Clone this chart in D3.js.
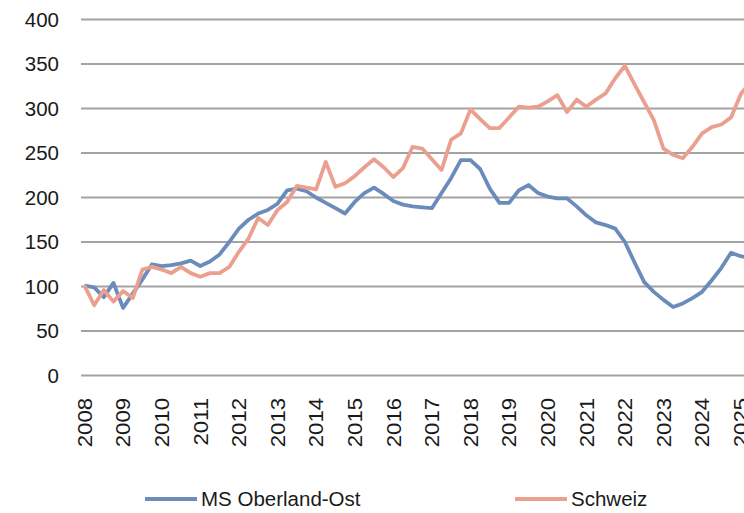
<!DOCTYPE html>
<html>
<head>
<meta charset="utf-8">
<script src="https://cdn.jsdelivr.net/npm/d3@7"></script>
<style>
  body { margin: 0; background: #fff; }
  svg { display: block; font-family: "Liberation Sans", Arial, sans-serif; }
</style>
</head>
<body>
<div id="chart"></div>
<script>
// quarterly index values, 2008 Q1 .. 2025 Q2
const years = d3.range(2008, 2026);
const yTicks = [0, 50, 100, 150, 200, 250, 300, 350, 400];

const oberland = [
    101, 99, 88, 104, 76, 92, 108, 125, 123, 124, 126, 129, 123, 128, 136, 150,
    165, 175, 182, 186, 193, 208, 210, 207, 200, 194, 188, 182, 195, 205, 211, 204,
    196, 192, 190, 189, 188, 205, 222, 242, 242, 232, 210, 194, 194, 208, 214, 205,
    201, 199, 199, 190, 180, 172, 169, 165, 150, 127, 105, 94, 85, 77, 81, 87,
    94, 107, 121, 138, 134, 132
];
const schweiz = [
    101, 79, 96, 83, 95, 87, 119, 122, 119, 115, 122, 115, 111, 115, 115, 122,
    139, 154, 177, 169, 186, 195, 213, 211, 209, 240, 212, 216, 224, 234, 243, 234,
    223, 233, 257, 255, 243, 231, 265, 272, 299, 288, 278, 278, 290, 302, 301, 302,
    308, 315, 296, 310, 302, 310, 317, 334, 348, 327, 307, 287, 255, 248, 244, 257,
    272, 279, 282, 290, 316, 330
];

const seriesNames = ['MS Oberland-Ost', 'Schweiz'];
const seriesColors = ['#6b8cba', '#eba08f'];

const W = 744, H = 513;
const left = 81, right = 744;

const svg = d3.select('#chart')
    .append('svg')
    .attr('width', W)
    .attr('height', H);

const x = d3.scaleLinear()
    .domain([0, 69])
    .range([84.5, 84.5 + 69 * 9.65]);

const y = d3.scaleLinear()
    .domain([0, 400])
    .range([375.5, 19.5]);

// gridlines
svg.append('g')
    .selectAll('line')
    .data(yTicks)
    .enter().append('line')
    .attr('x1', left)
    .attr('x2', right)
    .attr('y1', d => y(d))
    .attr('y2', d => y(d))
    .attr('stroke', '#a3a3a3')
    .attr('stroke-width', 2.2);

// y labels
svg.append('g')
    .selectAll('text')
    .data(yTicks)
    .enter().append('text')
    .attr('x', 59)
    .attr('y', d => y(d))
    .attr('dy', '0.36em')
    .attr('text-anchor', 'end')
    .attr('font-size', 20.5)
    .attr('fill', '#1a1a1a')
    .text(d => d);

// x labels (rotated, a bit stretched along the text like the original)
svg.append('g')
    .selectAll('text')
    .data(years)
    .enter().append('text')
    .attr('transform', d => `translate(${x((d - 2008) * 4)},398) rotate(-90) scale(1.08,1)`)
    .attr('dy', '0.36em')
    .attr('text-anchor', 'end')
    .attr('font-size', 20.5)
    .attr('fill', '#1a1a1a')
    .text(d => d);

const line = d3.line()
    .x((d, i) => x(i))
    .y(d => y(d));

[oberland, schweiz].forEach((s, k) => {
    svg.append('path')
        .datum(s)
        .attr('fill', 'none')
        .attr('stroke', seriesColors[k])
        .attr('stroke-width', 3.8)
        .attr('stroke-linejoin', 'round')
        .attr('d', line);
});

// legend
const legendX = [145, 515];
const legend = svg.append('g')
    .selectAll('g')
    .data(seriesNames)
    .enter().append('g')
    .attr('transform', (d, i) => `translate(${legendX[i]},499)`);

legend.append('line')
    .attr('x1', 0)
    .attr('x2', 52)
    .attr('stroke', (d, i) => seriesColors[i])
    .attr('stroke-width', 3.8);

legend.append('text')
    .attr('x', 56)
    .attr('dy', '0.36em')
    .attr('font-size', 20.5)
    .attr('fill', '#1a1a1a')
    .text(d => d);
</script>
</body>
</html>
